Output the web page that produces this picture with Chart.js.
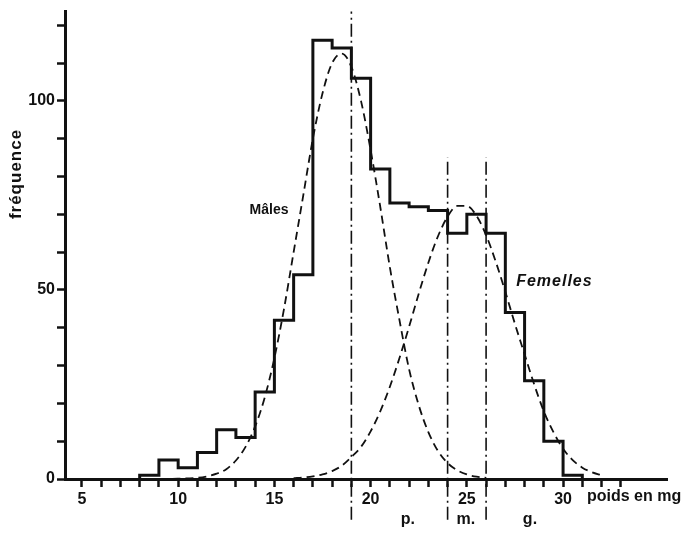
<!DOCTYPE html>
<html>
<head>
<meta charset="utf-8">
<title>Poids des mâles et des femelles</title>
<script src="https://cdn.jsdelivr.net/npm/chart.js@4/dist/chart.umd.min.js"></script>
<style>
  html, body { margin: 0; padding: 0; background: #fff; }
  #chart { display: block; }
</style>
</head>
<body>
<canvas id="chart" width="685" height="534"></canvas>
<script>
/* ============================================================
   Histogramme des poids (mg) avec courbes mâles / femelles
   ============================================================ */

// Histogram: left edge of each 1 mg class and its count
const binStart = [8, 9, 10, 11, 12, 13, 14, 15, 16, 17, 18, 19, 20, 21, 22, 23, 24, 25, 26, 27, 28, 29, 30];
const binCount = [1, 5, 3, 7, 13, 11, 23, 42, 54, 116, 114, 106, 82, 73, 72, 71, 65, 70, 65, 44, 26, 10, 1];

// Dashed curve, males
const maleX = [7, 8, 9, 10, 11, 11.5, 12, 12.5, 13, 13.5, 14, 14.5, 15, 15.5, 16, 16.5, 17, 17.5, 18, 18.5,
               19, 19.5, 20, 20.5, 21, 21.5, 22, 22.5, 23, 23.5, 24, 24.5, 25, 25.5, 26];
const maleY = [0, 0, 0, 0.1, 0.3, 0.7, 1.4, 2.6, 4.9, 8.5, 13.9, 21.6, 32, 45, 60, 75, 90, 102, 110, 112.5,
               109, 100, 87, 72, 56, 42, 29, 19.5, 12.4, 7.4, 4.2, 2.3, 1.2, 0.6, 0.3];

// Dashed curve, females
const femaleX = [16, 16.5, 17, 17.5, 18, 18.5, 19, 19.5, 20, 20.5, 21, 21.5, 22, 22.5, 23, 23.5, 24, 24.5,
                 25, 25.5, 26, 26.5, 27, 27.5, 28, 28.5, 29, 29.5, 30, 30.5, 31, 31.5, 32];
const femaleY = [0.2, 0.4, 0.7, 1.2, 2.1, 3.5, 5.8, 8.5, 12.6, 17.9, 24.4, 32, 40.3, 49, 57.2, 64.2, 69.4, 72.2,
                 72.2, 69.6, 64.5, 57.5, 49.5, 41, 33, 25, 17.9, 12.4, 8, 5, 3, 1.8, 1];

// Class limits p. / m. / g. (dash-dot lines): x, bottom and top value
const limitX = [19, 24, 26];
const limitTop = [123.6, 85, 85];
const limitBottom = -10.8;

// Axis ticks
const xTicks = [5, 6, 7, 8, 9, 10, 11, 12, 13, 14, 15, 16, 17, 18, 19, 20, 21, 22, 23, 24, 25, 26, 27, 28, 29, 30, 31, 32, 33];
const xLabels = [5, 10, 15, 20, 25, 30];
const yTicks = [0, 10, 20, 30, 40, 50, 60, 70, 80, 90, 100, 110, 120];
const yLabels = [0, 50, 100];

const INK = '#111';
const FONT = '"Liberation Sans", Arial, sans-serif';

const pts = (xs, ys) => xs.map((x, i) => ({ x: x, y: ys[i] }));

const histData = [{ x: binStart[0], y: 0 }]
  .concat(pts(binStart, binCount))
  .concat([{ x: binStart[binStart.length - 1] + 1, y: 0 }]);

const limitSets = limitX.map((x, i) => ({
  data: [{ x: x, y: limitBottom }, { x: x, y: limitTop[i] }],
  borderColor: INK,
  borderWidth: 1.6,
  borderDash: [13, 4, 2, 4],
  pointRadius: 0,
  clip: false,
}));

// Free text: labels of the curves, axis titles, class names
const textPlugin = {
  id: 'texts',
  afterDatasetsDraw(chart) {
    const { ctx, chartArea } = chart;
    const xs = chart.scales.x, ys = chart.scales.y;
    ctx.save();
    ctx.fillStyle = INK;
    ctx.textBaseline = 'middle';
    ctx.textAlign = 'center';

    ctx.font = 'bold 14px ' + FONT;
    ctx.fillText('Mâles', xs.getPixelForValue(14.72), ys.getPixelForValue(71));

    ctx.font = 'italic bold 16px ' + FONT;
    ctx.letterSpacing = '1px';
    ctx.fillText('Femelles', xs.getPixelForValue(29.55), ys.getPixelForValue(52.2));

    ctx.font = 'bold 16px ' + FONT;
    ctx.letterSpacing = '0px';
    ctx.textAlign = 'left';
    ctx.fillText('poids en mg', xs.getPixelForValue(31.24), chartArea.bottom + 18);

    ctx.textAlign = 'center';
    ctx.fillText('p.', xs.getPixelForValue(21.94), chartArea.bottom + 41);
    ctx.fillText('m.', xs.getPixelForValue(24.95), chartArea.bottom + 41);
    ctx.fillText('g.', xs.getPixelForValue(28.28), chartArea.bottom + 41);

    ctx.translate(16, 174);
    ctx.rotate(-Math.PI / 2);
    ctx.font = 'bold 17px ' + FONT;
    ctx.letterSpacing = '1px';
    ctx.fillText('fréquence', 0, 0);
    ctx.restore();
  }
};

const whiteBg = {
  id: 'whiteBg',
  beforeDraw(chart) {
    const ctx = chart.ctx;
    ctx.save();
    ctx.fillStyle = '#fff';
    ctx.fillRect(0, 0, chart.width, chart.height);
    ctx.restore();
  }
};

new Chart(document.getElementById('chart'), {
  type: 'line',
  data: {
    datasets: [
      ...limitSets,
      {
        data: pts(maleX, maleY),
        borderColor: INK,
        borderWidth: 1.8,
        borderDash: [8, 5],
        pointRadius: 0,
        cubicInterpolationMode: 'monotone',
      },
      {
        data: pts(femaleX, femaleY),
        borderColor: INK,
        borderWidth: 1.8,
        borderDash: [8, 5],
        pointRadius: 0,
        cubicInterpolationMode: 'monotone',
      },
      {
        data: histData,
        borderColor: INK,
        borderWidth: 3,
        stepped: 'before',
        pointRadius: 0,
        fill: false,
      },
    ]
  },
  options: {
    responsive: false,
    animation: false,
    devicePixelRatio: 1,
    layout: { padding: { left: 0, right: 18, top: 8, bottom: 0 } },
    plugins: { legend: { display: false }, tooltip: { enabled: false } },
    scales: {
      x: {
        type: 'linear',
        min: 4.12,
        max: 35.4,
        afterFit: s => { s.height = 55; },
        afterBuildTicks: s => { s.ticks = xTicks.map(v => ({ value: v })); },
        border: { display: true, width: 3, color: INK },
        grid: { drawOnChartArea: false, drawTicks: true, tickLength: 8, tickWidth: 2.5, tickColor: INK },
        ticks: {
          autoSkip: false,
          maxRotation: 0,
          padding: 3,
          color: INK,
          font: { family: FONT, size: 16, weight: 'bold' },
          callback: v => xLabels.includes(v) ? v : '',
        },
      },
      y: {
        min: 0,
        max: 123.6,
        afterFit: s => { s.width = 65; },
        afterBuildTicks: s => { s.ticks = yTicks.map(v => ({ value: v })); },
        border: { display: true, width: 3, color: INK },
        grid: { drawOnChartArea: false, drawTicks: true, tickLength: 8, tickWidth: 2.5, tickColor: INK },
        ticks: {
          autoSkip: false,
          padding: 2,
          color: INK,
          font: { family: FONT, size: 16, weight: 'bold' },
          callback: v => yLabels.includes(v) ? v : '',
        },
      },
    },
  },
  plugins: [whiteBg, textPlugin],
});
</script>
</body>
</html>
